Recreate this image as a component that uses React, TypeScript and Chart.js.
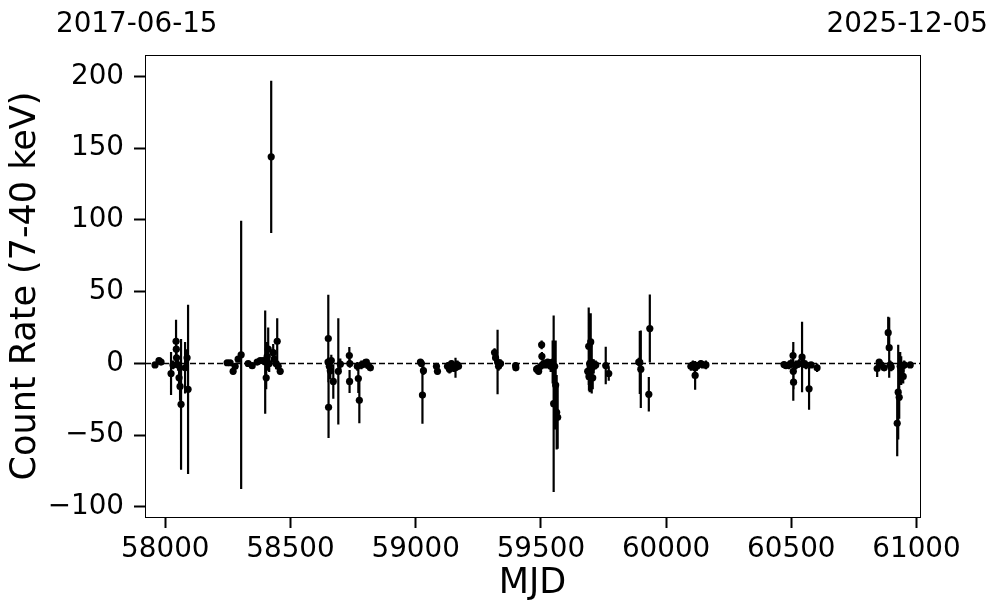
import { useEffect, useRef } from "react";
import { Chart, registerables } from "chart.js";

Chart.register(...registerables);

// Observation epochs (MJD)
const MJD = [
  57959, 57975, 57983, 58023, 58031, 58043, 58044, 58045, 58051, 58055, 58059, 58063, 58079, 58087, 58091,
  58247, 58259, 58271, 58279, 58291, 58303, 58331, 58347, 58367, 58379, 58391, 58399, 58403, 58407, 58411,
  58415, 58423, 58431, 58435, 58443, 58447, 58451, 58459,
  58650, 58651, 58652, 58655, 58659, 58663, 58671, 58691, 58699, 58735, 58736, 58737, 58767, 58771, 58775,
  58783, 58795, 58803, 58811, 58819,
  59019, 59023, 59027, 59031, 59083, 59087, 59127, 59135, 59143, 59151, 59159, 59167, 59171,
  59315, 59319, 59327, 59331, 59339, 59399, 59400,
  59483, 59491, 59499, 59503, 59504, 59511, 59519, 59527, 59535, 59539, 59547, 59551, 59555, 59559, 59563, 59567,
  59687, 59691, 59692, 59695, 59699, 59700, 59703, 59707, 59711, 59719, 59759, 59771,
  59891, 59895, 59899, 59931, 59935,
  60099, 60107, 60115, 60116, 60123, 60139, 60147, 60159,
  60471, 60479, 60491, 60499, 60507, 60508, 60509, 60519, 60531, 60543, 60551, 60559, 60571, 60579, 60603,
  60843, 60851, 60859, 60871, 60887, 60891, 60895, 60899, 60923, 60927, 60931, 60935, 60939, 60947, 60951, 60975,
];

// Count rate (7-40 keV)
const RATE = [
  -1, 2, 1, -7, -1, 15.5, 10, 4, -1, -10, -16, -28.5, -3, 4, -18,
  0.5, 0.5, -5.5, -2, 3, 6, 0, -1.5, 1, 2, 2, 1, -10, 5, 10,
  0, 144, 7.5, 3, 0, 15.5, -2, -5.5,
  1, 17.4, -30.5, -2, -5, 2, -12.5, -5.5, -0.5, 5.5, -12.5, 0, -2, -10.5, -25.7,
  -1, 0, 1, -1.5, -3,
  1, 0, -22, -5, -2, -5.5, -2, -4, 0, -3, -3, -1, -2,
  7.6, 4, 1, -2, 0, -1.4, -3,
  -4, -5.5, -2, 13, 5, 0, -1, 1, 0, -2, 1, -28, -2, -15, -34, -37.5,
  -5.5, 12, -9, 0, 15, 1, -3, -10, -2, -1, -1.4, -7,
  1, 0.7, -4, -21.5, 24.3,
  -2, -1, -3, -8.3, -2, 0, -1, -1,
  -0.7, -1.5, -1, 0, 5.5, -5.5, -13, -1, 0, 4.5, 0, -1, -17.7, -1, -3,
  -3.5, 1, -1, -3, 21.5, 11, -1, -2.5, -41.7, -20, -23.6, -2, -5, -9, -1, -1,
];

// 1-sigma uncertainty
const ERR = [
  1.5, 1.5, 1, 15, 3, 15, 8, 6, 4, 8, 10, 45.5, 18, 6, 59,
  1.5, 2, 2, 2, 2, 93.5, 1.5, 2, 1.5, 1.5, 2, 36, 8, 10, 15,
  6, 53, 6, 5, 4, 16, 3, 2,
  3, 30.5, 21.5, 5, 6, 4, 12, 37, 4, 6, 8, 3, 3, 10, 16,
  3, 3, 2, 2, 2,
  2, 2, 20, 3, 2, 2, 3, 3, 2, 3, 7, 3, 2,
  3, 3, 22.5, 3, 3, 2, 2,
  3, 2, 3, 3, 3, 3, 2, 2, 3, 4, 15, 61.5, 15, 31, 26, 22,
  6, 27, 10, 20, 20, 5, 18, 8, 5, 3, 13, 5,
  3, 22, 27, 12, 23.7,
  3, 3, 4, 10, 3, 2, 2, 3,
  2, 2, 3, 3, 4, 20.5, 5, 3, 3, 24.5, 3, 3, 14.5, 2, 3,
  6, 2, 2, 2, 11, 21, 3, 3, 23, 33, 15, 10, 10, 5, 3, 2,
];

const X_TICKS = [58000, 58500, 59000, 59500, 60000, 60500, 61000];
const Y_TICKS = [-100, -50, 0, 50, 100, 150, 200];
const X_RANGE = [57919, 61014];
const Y_RANGE = [-107, 215];
const DATE_LABELS = ["2017-06-15", "2025-12-05"];
const X_TITLE = "MJD";
const Y_TITLE = "Count Rate (7-40 keV)";

const FONT = "'DejaVu Sans', sans-serif";

export default function App() {
  const ref = useRef<HTMLCanvasElement | null>(null);

  useEffect(() => {
    if (!ref.current) return;
    const points = MJD.map((x, i) => ({ x, y: RATE[i] }));
    const bars: { x: number; y: number | null }[] = [];
    MJD.forEach((x, i) => {
      bars.push({ x, y: RATE[i] - ERR[i] }, { x, y: RATE[i] + ERR[i] }, { x, y: null });
    });

    const framePlugin = {
      id: "frame",
      afterDatasetsDraw(chart: any) {
        const { ctx, chartArea: a } = chart;
        ctx.save();
        ctx.strokeStyle = "#000";
        ctx.lineWidth = 1;
        ctx.strokeRect(a.left + 0.5, a.top + 0.5, a.right - a.left, a.bottom - a.top);
        ctx.restore();
      },
      afterDraw(chart: any) {
        const { ctx } = chart;
        ctx.save();
        ctx.fillStyle = "#000";
        ctx.font = `27.8px ${FONT}`;
        ctx.textBaseline = "alphabetic";
        ctx.textAlign = "left";
        ctx.fillText(DATE_LABELS[0], 56, 32);
        ctx.textAlign = "right";
        ctx.fillText(DATE_LABELS[1], 988, 32);
        ctx.restore();
      },
    };

    const chart = new Chart(ref.current, {
      type: "scatter",
      data: {
        datasets: [
          {
            type: "line",
            data: [
              { x: X_RANGE[0], y: 0 },
              { x: X_RANGE[1], y: 0 },
            ],
            borderColor: "#000",
            borderWidth: 1.6,
            borderDash: [6, 3],
            pointRadius: 0,
            showLine: true,
          } as any,
          {
            type: "line",
            data: bars,
            borderColor: "#000",
            borderWidth: 2.2,
            pointRadius: 0,
            showLine: true,
            spanGaps: false,
          } as any,
          {
            type: "scatter",
            data: points,
            pointRadius: 3.6,
            pointBackgroundColor: "#000",
            pointBorderWidth: 0,
            backgroundColor: "#000",
          } as any,
        ],
      },
      options: {
        animation: false,
        responsive: false,
        devicePixelRatio: 1,
        layout: { padding: { top: 55, right: 77, left: 0, bottom: 0 } },
        plugins: { legend: { display: false }, tooltip: { enabled: false } },
        scales: {
          x: {
            type: "linear",
            min: X_RANGE[0],
            max: X_RANGE[1],
            afterBuildTicks: (s: any) => {
              s.ticks = X_TICKS.map((v) => ({ value: v }));
            },
            afterFit: (s: any) => {
              s.height = 96;
            },
            grid: {
              display: true,
              drawOnChartArea: false,
              drawTicks: true,
              tickLength: 11,
              tickWidth: 2,
              tickColor: "#000",
            },
            border: { display: false },
            ticks: {
              color: "#000",
              font: { family: FONT, size: 27.8 },
              padding: 5,
              maxRotation: 0,
              autoSkip: false,
              callback: (v: any) => String(v),
            },
            title: {
              display: true,
              text: X_TITLE,
              color: "#000",
              font: { family: FONT, size: 35 },
              padding: { top: 0, bottom: 8 },
            },
          },
          y: {
            type: "linear",
            min: Y_RANGE[0],
            max: Y_RANGE[1],
            afterBuildTicks: (s: any) => {
              s.ticks = Y_TICKS.map((v) => ({ value: v }));
            },
            afterFit: (s: any) => {
              s.width = 145;
            },
            grid: {
              display: true,
              drawOnChartArea: false,
              drawTicks: true,
              tickLength: 11,
              tickWidth: 2,
              tickColor: "#000",
            },
            border: { display: false },
            ticks: {
              color: "#000",
              font: { family: FONT, size: 27.8 },
              padding: 10,
              autoSkip: false,
              callback: (v: any) => (v < 0 ? "\u2212" + String(-v) : String(v)),
            },
            title: {
              display: true,
              text: Y_TITLE,
              color: "#000",
              font: { family: FONT, size: 35 },
              padding: { top: 5, bottom: 0 },
            },
          },
        },
      },
      plugins: [framePlugin],
    } as any);

    return () => chart.destroy();
  }, []);

  return (
    <div style={{ position: "fixed", left: 0, top: 0, width: 997, height: 613, background: "#fff" }}>
      <canvas ref={ref} width={997} height={613} style={{ display: "block" }} />
    </div>
  );
}
